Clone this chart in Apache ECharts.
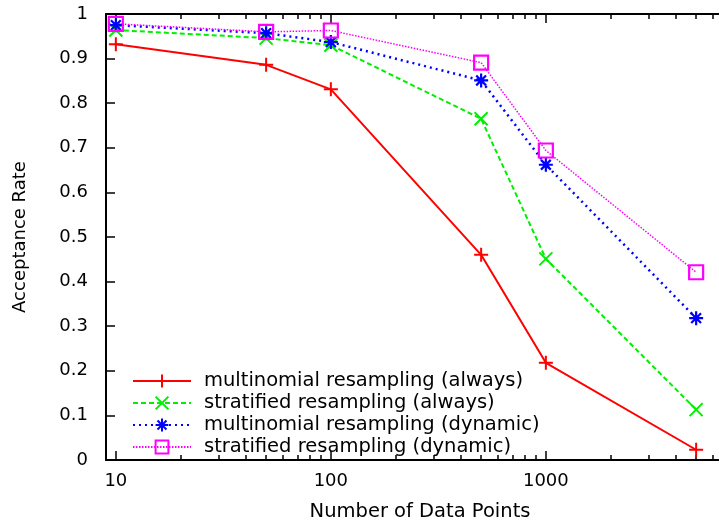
<!DOCTYPE html>
<html>
<head>
<meta charset="utf-8">
<script src="https://cdn.jsdelivr.net/npm/echarts@6/dist/echarts.min.js"></script>
<style>
  html, body { margin: 0; padding: 0; background: #fff; }
  #chart { width: 719px; height: 524px; }
</style>
</head>
<body>
<div id="chart"></div>
<script>
// Number of data points (log-scaled x axis)
const dataPoints = [10, 50, 100, 500, 1000, 5000];

// Acceptance rates for each resampling scheme
const multinomialAlways = [0.932, 0.886, 0.831, 0.460, 0.218, 0.023];
const stratifiedAlways = [0.964, 0.946, 0.930, 0.765, 0.451, 0.113];
const multinomialDynamic = [0.975, 0.957, 0.937, 0.851, 0.662, 0.318];
const stratifiedDynamic = [0.978, 0.960, 0.963, 0.891, 0.694, 0.421];

const seriesNames = [
  'multinomial resampling (always)',
  'stratified resampling (always)',
  'multinomial resampling (dynamic)',
  'stratified resampling (dynamic)'
];

// Axis ticks
const majorXTicks = [10, 100, 1000];
const minorXTicks = [20, 30, 40, 50, 60, 70, 80, 90,
  200, 300, 400, 500, 600, 700, 800, 900,
  2000, 3000, 4000, 5000, 6000, 7000];

const X_MIN = 9, X_MAX = 7500;
const FONT = 'DejaVu Sans, Liberation Sans, Arial, sans-serif';

const zip = (xs, ys) => xs.map((x, i) => [x, ys[i]]);

// Gnuplot-style point shapes
const SYM_PLUS = 'path://M0,6L12,6M6,0L6,12';
const SYM_CROSS = 'path://M0,0L12,12M12,0L0,12';
const SYM_STAR = 'path://M0,6L12,6M6,0L6,12M1.8,1.8L10.2,10.2M10.2,1.8L1.8,10.2';
const SYM_BOX = 'path://M0,0L12,0L12,12L0,12Z';

function makeSeries(name, values, color, lineType, lineWidth, symbol, size, markWidth) {
  return {
    name: name,
    type: 'line',
    xAxisIndex: 0,
    yAxisIndex: 0,
    data: zip(dataPoints, values),
    symbol: symbol,
    symbolSize: size,
    showAllSymbol: true,
    lineStyle: { color: color, width: lineWidth, type: lineType },
    itemStyle: { color: 'rgba(0,0,0,0)', borderColor: color, borderWidth: markWidth },
    emphasis: { disabled: true },
    animation: false
  };
}

function xAxisOf(position, ticks, len, showLabel, showLine, name) {
  return {
    type: 'log',
    logBase: 10,
    position: position,
    min: X_MIN,
    max: X_MAX,
    name: name || '',
    nameLocation: 'middle',
    nameGap: 42,
    nameTextStyle: { fontFamily: FONT, fontSize: 19.5, color: '#000' },
    axisLine: { show: showLine, onZero: false, lineStyle: { color: '#000', width: 2 } },
    axisTick: { show: true, inside: true, length: len, customValues: ticks,
      lineStyle: { color: '#000', width: 1.5 } },
    axisLabel: { show: showLabel, customValues: ticks, margin: 12,
      formatter: (v) => String(Math.round(v)),
      fontFamily: FONT, fontSize: 18, color: '#000' },
    minorTick: { show: false },
    splitLine: { show: false }
  };
}

const chart = echarts.init(document.getElementById('chart'), null, { renderer: 'canvas' });

chart.setOption({
  backgroundColor: '#fff',
  animation: false,
  grid: { left: 106, top: 14, right: -15, bottom: 64, containLabel: false, outerBoundsMode: 'none' },
  legend: {
    orient: 'vertical',
    left: 132,
    top: 371,
    padding: 0,
    itemWidth: 58,
    itemHeight: 16,
    itemGap: 2,
    align: 'left',
    textStyle: { fontFamily: FONT, fontSize: 19.5, color: '#000', padding: [0, 0, 0, 8] },
    data: seriesNames,
    selectedMode: false
  },
  xAxis: [
    xAxisOf('bottom', majorXTicks, 9, true, true, 'Number of Data Points'),
    xAxisOf('bottom', minorXTicks, 5, false, false),
    xAxisOf('top', majorXTicks, 9, false, true),
    xAxisOf('top', minorXTicks, 5, false, false)
  ],
  yAxis: [{
    type: 'value',
    position: 'left',
    min: 0,
    max: 1,
    interval: 0.1,
    name: 'Acceptance Rate',
    nameLocation: 'middle',
    nameRotate: 90,
    nameGap: 77,
    nameTextStyle: { fontFamily: FONT, fontSize: 18, color: '#000' },
    axisLine: { show: true, lineStyle: { color: '#000', width: 2 } },
    axisTick: { show: true, inside: true, length: 9, lineStyle: { color: '#000', width: 1.5 } },
    axisLabel: { margin: 18, fontFamily: FONT, fontSize: 18, color: '#000' },
    splitLine: { show: false }
  }],
  series: [
    makeSeries(seriesNames[0], multinomialAlways, '#ff0000', 'solid', 2, SYM_PLUS, 14, 2),
    makeSeries(seriesNames[1], stratifiedAlways, '#00ee00', [5, 3], 2, SYM_CROSS, 13, 2),
    makeSeries(seriesNames[2], multinomialDynamic, '#0000ff', [2, 4], 2.5, SYM_STAR, 14, 2.2),
    makeSeries(seriesNames[3], stratifiedDynamic, '#ff00ff', [1.5, 1.5], 1.5, SYM_BOX, 14, 2.2)
  ]
});
</script>
</body>
</html>
